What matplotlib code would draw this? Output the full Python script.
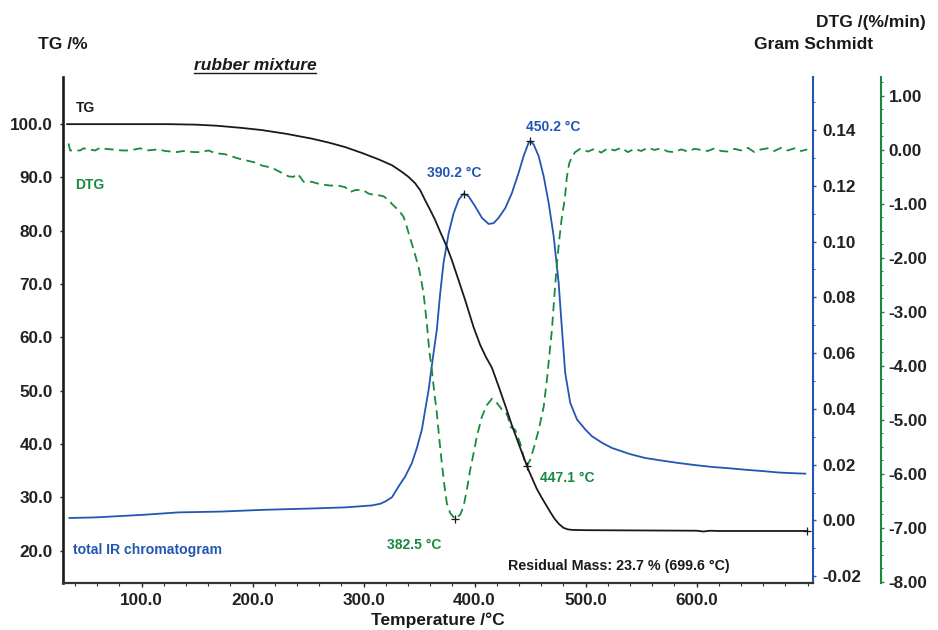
import numpy as np
import matplotlib
matplotlib.use('Agg')
import matplotlib.pyplot as plt
from matplotlib.ticker import MultipleLocator, FixedLocator, FuncFormatter
from matplotlib.lines import Line2D

plt.rcParams['font.family'] = ['Liberation Sans', 'DejaVu Sans']
plt.rcParams['font.weight'] = 'bold'
plt.rcParams['axes.unicode_minus'] = False

BLACK = '#1a1a1a'
BLUE = '#2157b3'
GREEN = '#178a3d'

# ---------------- data ----------------
tg_temp = [33, 80, 125, 150, 168, 190, 208, 230, 253, 268.5, 283.4, 298.5, 313.5, 325.5,
           334.5, 340.5, 346.5, 351, 355.5, 360, 364.5, 369, 375, 379.5, 385.6, 391.5,
           399.1, 405, 410, 415.6, 422, 428, 433.6, 441, 448.6, 456, 460, 464, 468, 472,
           476, 480, 484, 488, 500, 550, 600, 606, 612, 620, 650, 699.6]
tg_mass = [100.0, 100.0, 100.0, 99.9, 99.7, 99.3, 98.9, 98.2, 97.3, 96.55, 95.7, 94.6,
           93.4, 92.3, 91.05, 90.1, 88.9, 87.6, 85.7, 83.9, 82.0, 79.8, 77.0, 74.5, 70.7,
           67.0, 61.9, 58.6, 56.4, 54.3, 50.6, 47.0, 43.5, 39.3, 35.1, 31.6, 30.1, 28.7,
           27.3, 26.0, 25.0, 24.3, 24.0, 23.9, 23.85, 23.8, 23.75, 23.6, 23.75, 23.7,
           23.7, 23.7]

gs_temp = [35, 58, 100, 133, 172, 208, 253, 283.4, 307.5, 315, 319.5, 325.5, 331.5, 337.5,
           343.5, 348, 352.5, 355.5, 358.6, 362.2, 366, 369, 372, 376.6, 381, 385.6, 390.2,
           394.6, 400.5, 406.6, 412.6, 417.1, 421.6, 427.6, 433.6, 439.6, 444.1, 448.6,
           450.2, 453.2, 457.7, 462.2, 466.7, 471.2, 475.7, 478.6, 481.6, 486.1, 492.2,
           500, 505.7, 515, 523.7, 540, 553.7, 570, 583.8, 600, 613.8, 630, 643.8, 660,
           673.9, 690, 697.8]
gs_val = [0.0009, 0.0011, 0.0020, 0.0029, 0.0032, 0.0038, 0.0043, 0.0047, 0.0054, 0.0060,
          0.0068, 0.0083, 0.0122, 0.0158, 0.0206, 0.0260, 0.0326, 0.0397, 0.0469, 0.0577,
          0.0685, 0.0815, 0.0923, 0.1030, 0.1100, 0.1150, 0.1172, 0.1162, 0.1126, 0.1085,
          0.1063, 0.1066, 0.1085, 0.1120, 0.1174, 0.1246, 0.1306, 0.1354, 0.1360, 0.1348,
          0.1306, 0.1234, 0.1138, 0.1019, 0.0851, 0.0689, 0.0529, 0.0422, 0.0362, 0.0325,
          0.0302, 0.0278, 0.0260, 0.0238, 0.0224, 0.0214, 0.0206, 0.0198, 0.0192, 0.0187,
          0.0182, 0.0177, 0.0172, 0.0169, 0.0168]

dtg_temp = [34.2, 35.7, 44.7, 47.7, 58.2, 62.7, 67.2, 73.2, 82.2, 89.7, 98.8, 104.8,
            115.3, 121.3, 131.8, 137.8, 146.8, 152.8, 160.3, 166.3, 175.4, 181.4, 187.4,
            193.4, 203.9, 208.4, 217.4, 224.9, 232.4, 236.9, 239.9, 242.9, 245.9, 253.4,
            258, 262.4, 270, 277, 283.4, 288, 293, 300, 304.5, 309, 313.5, 318, 322, 325.5,
            328.5, 331.5, 333.9, 336, 337.5, 339, 341.1, 343.5, 346.5, 349.5, 351.9, 354,
            357, 359.1, 361.5, 363.6, 366, 368.1, 370.5, 372.9, 375, 378, 382.5, 387, 390,
            393, 396, 399.1, 402, 406.6, 411, 415.6, 420.1, 424.6, 427.6, 430.1, 432.1,
            436.6, 441.1, 445.6, 447.1, 450.1, 453.2, 457.7, 462.2, 465.1, 468.1, 469.6,
            472, 474.1, 476.2, 478.6, 481.1, 483.1, 485.2, 487.6, 490.6, 495.1, 502, 508,
            514, 520, 526, 532, 538, 544, 550, 556, 562, 568, 574, 580, 586, 592, 598, 604,
            610, 616, 622, 628, 634, 640, 646, 652, 658, 664, 670, 676, 682, 688, 694, 699.6]
dtg_val = [0.12, -0.01, -0.01, 0.03, -0.01, 0.04, 0.02, 0.01, -0.01, -0.01, 0.03, -0.01,
           0.01, -0.02, -0.04, -0.02, -0.04, -0.04, -0.01, -0.06, -0.08, -0.12, -0.16,
           -0.19, -0.24, -0.29, -0.33, -0.41, -0.49, -0.50, -0.44, -0.50, -0.59, -0.59,
           -0.62, -0.64, -0.66, -0.66, -0.69, -0.78, -0.74, -0.75, -0.81, -0.83, -0.84,
           -0.86, -0.92, -1.00,
           -1.06, -1.12, -1.18, -1.24, -1.33, -1.43, -1.58, -1.74, -1.95, -2.17, -2.41,
           -2.66, -3.22, -3.71, -4.08, -4.48, -4.88, -5.34, -5.81, -6.24, -6.55, -6.73,
           -6.84, -6.76, -6.61, -6.30, -5.93, -5.62, -5.31, -4.94, -4.73, -4.61, -4.69,
           -4.81, -4.84, -4.95, -5.13, -5.19, -5.44, -5.81, -5.86, -5.74, -5.53, -5.19,
           -4.76, -4.26, -3.65, -3.34, -2.66, -2.11, -1.67, -1.24, -0.93, -0.50, -0.25,
           -0.13, -0.04, 0.02,
           -0.03, 0.02, -0.05, 0.03, -0.01, 0.04, -0.04, 0.02, -0.02, 0.04, 0.00,
           0.03, -0.03, -0.04, 0.01, -0.03, 0.02, 0.00, -0.02, 0.03, -0.02, -0.03, 0.02,
           -0.01, 0.04, -0.04, 0.01, 0.03, -0.02, 0.04, -0.01, 0.03, -0.02, 0.01]

gs_peak_temps = [390.2, 450.2]
dtg_peak_temps = [382.5, 447.1]
residual_temp = 699.6
residual_mass = 23.7

x_ticks = [100, 200, 300, 400, 500, 600]
tg_ticks = [20, 30, 40, 50, 60, 70, 80, 90, 100]
gs_ticks = [-0.02, 0.00, 0.02, 0.04, 0.06, 0.08, 0.10, 0.12, 0.14]
dtg_ticks = [1, 0, -1, -2, -3, -4, -5, -6, -7, -8]

# ---------------- figure ----------------
W, H = 938, 630
fig = plt.figure(figsize=(W / 100, H / 100), dpi=100)
L, R, T, B = 62.7, 812.7, 76.7, 582.7
ax = fig.add_axes([L / W, 1 - B / H, (R - L) / W, (B - T) / H])
ax2 = ax.twinx()
ax3 = ax.twinx()

ax.set_xlim(29.0, 704.5)
ax.set_ylim(14.0, 108.9)
ax2.set_ylim(-0.0223, 0.1591)
ax3.set_ylim(-8.02, 1.357)

# curves
ax2.plot(gs_temp, gs_val, color=BLUE, lw=1.3, zorder=2, solid_joinstyle='round')
ax3.plot(dtg_temp, dtg_val, color=GREEN, lw=1.3, linestyle=(0, (5, 3)), zorder=2)
ax.plot(tg_temp, tg_mass, color=BLACK, lw=1.3, zorder=3, solid_joinstyle='round')
ax.set_zorder(3)
ax.patch.set_visible(False)
ax2.set_zorder(1)
ax3.set_zorder(2)

# spines
for a in (ax, ax2, ax3):
    a.spines['top'].set_visible(False)
ax.spines['right'].set_visible(False)
ax.spines['left'].set_linewidth(1.9)
ax.spines['left'].set_color(BLACK)
ax.spines['bottom'].set_linewidth(1.6)
ax.spines['bottom'].set_color('#333333')
for a in (ax2, ax3):
    a.spines['left'].set_visible(False)
    a.spines['bottom'].set_visible(False)
ax2.spines['right'].set_color(BLUE)
ax2.spines['right'].set_linewidth(1.5)
ax3.spines['right'].set_position(('axes', (880.7 - L) / (R - L)))
ax3.spines['right'].set_color(GREEN)
ax3.spines['right'].set_linewidth(1.5)

fs = 12.3
# x axis
ax.xaxis.set_major_locator(FixedLocator(x_ticks))
ax.xaxis.set_minor_locator(MultipleLocator(20))
ax.xaxis.set_major_formatter(FuncFormatter(lambda v, p: f"{v:.1f}"))
ax.tick_params(axis='x', which='major', direction='out', length=3.0, width=1.0,
               pad=4.3, labelsize=fs, colors='#222222')
ax.tick_params(axis='x', which='minor', direction='out', length=1.8, width=0.8, colors='#333333')
# TG axis
ax.yaxis.set_major_locator(FixedLocator(tg_ticks))
ax.yaxis.set_minor_locator(MultipleLocator(2))
ax.yaxis.set_major_formatter(FuncFormatter(lambda v, p: f"{v:.1f}"))
ax.tick_params(axis='y', which='major', direction='out', length=2.4, width=1.0,
               pad=4.6, labelsize=fs, colors='#222222')
ax.tick_params(axis='y', which='minor', direction='out', length=1.0, width=0.6, colors='#222222')
# GS axis
ax2.yaxis.set_major_locator(FixedLocator(gs_ticks))
ax2.yaxis.set_minor_locator(MultipleLocator(0.01))
ax2.yaxis.set_major_formatter(FuncFormatter(lambda v, p: f"{v:.2f}"))
ax2.tick_params(axis='y', which='major', direction='out', length=2.4, width=1.0,
                pad=4.3, labelsize=fs, color=BLUE, labelcolor='#222222')
ax2.tick_params(axis='y', which='minor', direction='out', length=1.2, width=0.7, color=BLUE)
# DTG axis
ax3.yaxis.set_major_locator(FixedLocator(dtg_ticks))
ax3.yaxis.set_minor_locator(MultipleLocator(0.25))
ax3.yaxis.set_major_formatter(FuncFormatter(lambda v, p: f"{v:.2f}"))
ax3.tick_params(axis='y', which='major', direction='out', length=2.4, width=1.0,
                pad=3.4, labelsize=fs, color=GREEN, labelcolor='#222222')
ax3.tick_params(axis='y', which='minor', direction='out', length=1.2, width=0.7, color=GREEN)

# peak markers + labels
mk = dict(marker='+', color=BLACK, markersize=6, mew=0.9, linestyle='none', zorder=6)
gs_offsets = [(-7.0, 11.7), (16.3, 7.4)]
for tp, off in zip(gs_peak_temps, gs_offsets):
    v = np.interp(tp, gs_temp, gs_val)
    ax2.plot([tp], [v], **mk)
    ax2.annotate(f"{tp:.1f} °C", (tp, v), xytext=off, textcoords='offset points',
                 ha='center', va='baseline', color=BLUE, fontsize=10, fontweight='bold')
dtg_offsets = [((-29.4, -21.6), 'center'), ((9.6, -11.3), 'left')]
for tp, (off, ha) in zip(dtg_peak_temps, dtg_offsets):
    v = np.interp(tp, dtg_temp, dtg_val)
    ax3.plot([tp], [v], **mk)
    ax3.annotate(f"{tp:.1f} °C", (tp, v), xytext=off, textcoords='offset points',
                 ha=ha, va='baseline', color=GREEN, fontsize=10, fontweight='bold')
ax.plot([residual_temp], [residual_mass], **mk)

def ftxt(x, y, s, **kw):
    return fig.text(x / W, 1 - y / H, s, va='baseline', fontweight='bold', **kw)

# in-plot labels
ftxt(76, 112, "TG", color=BLACK, fontsize=10)
ftxt(75.3, 188.7, "DTG", color=GREEN, fontsize=10)
ftxt(72.7, 554, "total IR chromatogram", color=BLUE, fontsize=10.1)
ftxt(508.3, 570, f"Residual Mass: {residual_mass:.1f} % ({residual_temp:.1f} °C)",
     color=BLACK, fontsize=10.3)

# axis titles
ftxt(38, 49.3, "TG /%", color=BLACK, fontsize=12.5)
ftxt(926, 26.7, "DTG /(%/min)", color=BLACK, fontsize=12.5, ha='right')
ftxt(873.3, 49.3, "Gram Schmidt", color=BLACK, fontsize=12.5, ha='right')
ftxt(437.5, 625.5, "Temperature /°C", color=BLACK, fontsize=12.5, ha='center')
title = ftxt(255, 70.5, "rubber mixture", color=BLACK, fontsize=12.5, ha='center',
             fontstyle='italic')

fig.canvas.draw()
bb = title.get_window_extent(fig.canvas.get_renderer()).transformed(fig.transFigure.inverted())
yl = 1 - 72.9 / H
fig.add_artist(Line2D([bb.x0, bb.x1], [yl, yl], transform=fig.transFigure,
                      color=BLACK, lw=1.0))

fig.savefig('out.png', dpi=100)
